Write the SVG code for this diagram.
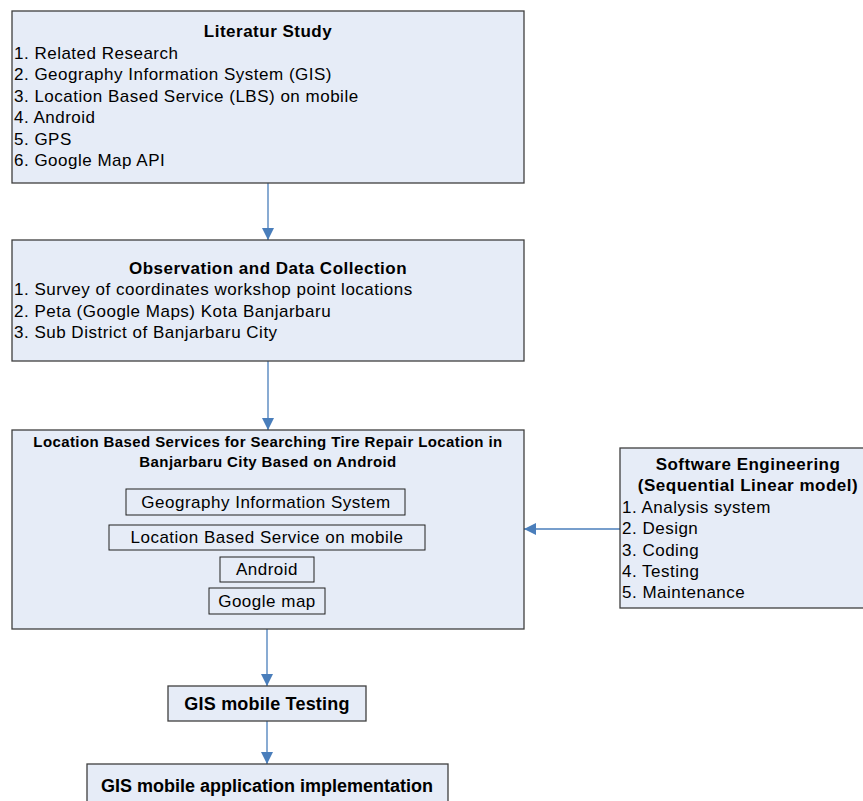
<svg xmlns="http://www.w3.org/2000/svg" width="863" height="801" viewBox="0 0 863 801">
<style>
.box{fill:#e6ecf7;stroke:#3f3f3f;stroke-width:1.3}
.ibox{fill:#e6ecf7;stroke:#202020;stroke-width:1}
.t{font-family:"Liberation Sans",Arial,sans-serif;font-size:17px;letter-spacing:0.5px;fill:#000}
.b{font-family:"Liberation Sans",Arial,sans-serif;font-weight:bold;fill:#000}
.c{stroke:#4a7ebb;stroke-width:1.3;fill:none}
</style>
<defs>
<marker id="ah" viewBox="0 0 10 10" refX="10" refY="5" markerWidth="12" markerHeight="12" markerUnits="userSpaceOnUse" orient="auto">
<path d="M0,0 L10,5 L0,10 Z" fill="#4a7ebb"/>
</marker>
</defs>
<rect width="863" height="801" fill="#fff"/>
<g id="connectors">
<line class="c" x1="268" y1="183" x2="268" y2="240" marker-end="url(#ah)"/>
<line class="c" x1="268" y1="361" x2="268" y2="430" marker-end="url(#ah)"/>
<line class="c" x1="267" y1="629" x2="267" y2="686" marker-end="url(#ah)"/>
<line class="c" x1="267" y1="721" x2="267" y2="764" marker-end="url(#ah)"/>
<line class="c" x1="620" y1="529" x2="524" y2="529" marker-end="url(#ah)"/>
</g>
<g id="literatur">
<rect class="box" x="12" y="11" width="512" height="172"/>
<text class="b" x="268" y="37" font-size="17" letter-spacing="0.5" text-anchor="middle">Literatur Study</text>
<text class="t" x="14" y="59">1. Related Research</text>
<text class="t" x="14" y="80">2. Geography Information System (GIS)</text>
<text class="t" x="14" y="102">3. Location Based Service (LBS) on mobile</text>
<text class="t" x="14" y="123">4. Android</text>
<text class="t" x="14" y="145">5. GPS</text>
<text class="t" x="14" y="166">6. Google Map API</text>
</g>
<g id="observation">
<rect class="box" x="12" y="240" width="512" height="121"/>
<text class="b" x="268" y="274" font-size="17" letter-spacing="0.5" text-anchor="middle">Observation and Data Collection</text>
<text class="t" x="14" y="295">1. Survey of coordinates workshop point locations</text>
<text class="t" x="14" y="317">2. Peta (Google Maps) Kota Banjarbaru</text>
<text class="t" x="14" y="338">3. Sub District of Banjarbaru City</text>
</g>
<g id="lbs">
<rect class="box" x="12" y="430" width="512" height="199"/>
<text class="b" x="268" y="447" font-size="15" letter-spacing="0.4" text-anchor="middle">Location Based Services for Searching Tire Repair Location in</text>
<text class="b" x="268" y="467" font-size="15" letter-spacing="0.4" text-anchor="middle">Banjarbaru City Based on Android</text>
<rect class="ibox" x="126" y="489" width="279" height="26"/>
<text class="t" x="266" y="508" text-anchor="middle">Geography Information System</text>
<rect class="ibox" x="109" y="525" width="316" height="25"/>
<text class="t" x="267" y="543" text-anchor="middle">Location Based Service on mobile</text>
<rect class="ibox" x="220" y="557" width="94" height="25"/>
<text class="t" x="267" y="575" text-anchor="middle">Android</text>
<rect class="ibox" x="209" y="588" width="116" height="26"/>
<text class="t" x="267" y="607" text-anchor="middle">Google map</text>
</g>
<g id="software">
<rect class="box" x="620" y="448" width="250" height="160"/>
<text class="b" x="748" y="470" font-size="17" letter-spacing="0.5" text-anchor="middle">Software Engineering</text>
<text class="b" x="748" y="491" font-size="17" letter-spacing="0.5" text-anchor="middle">(Sequential Linear model)</text>
<text class="t" x="622" y="513">1. Analysis system</text>
<text class="t" x="622" y="534">2. Design</text>
<text class="t" x="622" y="556">3. Coding</text>
<text class="t" x="622" y="577">4. Testing</text>
<text class="t" x="622" y="598">5. Maintenance</text>
</g>
<g id="testing">
<rect class="box" x="168" y="686" width="198" height="35"/>
<text class="b" x="267" y="710" font-size="18" letter-spacing="0.2" text-anchor="middle">GIS mobile Testing</text>
</g>
<g id="implementation">
<rect class="box" x="87" y="764" width="361" height="50"/>
<text class="b" x="267" y="792" font-size="18" text-anchor="middle">GIS mobile application implementation</text>
</g>
</svg>
